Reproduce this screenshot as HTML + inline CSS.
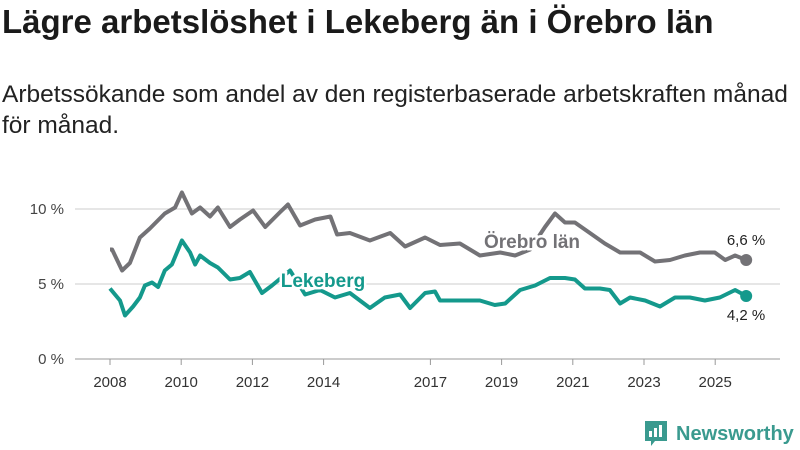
<!DOCTYPE html>
<html><head><meta charset="utf-8"><style>
body{margin:0;width:800px;height:450px;background:#fff;font-family:"Liberation Sans",sans-serif;overflow:hidden;position:relative}
h1{position:absolute;left:2px;top:3px;margin:0;font-size:33px;font-weight:bold;color:#1a1a1a;white-space:nowrap}
p{position:absolute;left:2px;top:79px;margin:0;font-size:24.5px;line-height:31px;color:#222;width:788px}
svg{position:absolute;left:0;top:0}
</style></head><body>
<h1>Lägre arbetslöshet i Lekeberg än i Örebro län</h1>
<p>Arbetssökande som andel av den registerbaserade arbetskraften månad för månad.</p>
<svg id="c" width="800" height="450"></svg>
<script>
const yearTicks=[2008,2010,2012,2014,2017,2019,2021,2023,2025];
const yTicks=[0,5,10];
const yTickLabels=["0 %","5 %","10 %"];
const orebroYears=[2008.0,2008.06,2008.34,2008.56,2008.84,2009.12,2009.54,2009.83,2010.02,2010.3,2010.53,2010.81,2011.03,2011.37,2011.65,2012.02,2012.36,2012.78,2013.0,2013.34,2013.76,2014.19,2014.38,2014.74,2015.3,2015.87,2016.29,2016.85,2017.27,2017.83,2018.39,2018.96,2019.38,2019.8,2020.22,2020.5,2020.78,2021.06,2021.48,2021.9,2022.33,2022.89,2023.31,2023.73,2024.15,2024.57,2024.99,2025.28,2025.56,2025.87];
const orebroValues=[7.3,7.3,5.9,6.4,8.1,8.7,9.7,10.1,11.1,9.7,10.1,9.5,10.1,8.8,9.3,9.9,8.8,9.8,10.3,8.9,9.3,9.5,8.3,8.4,7.9,8.4,7.5,8.1,7.6,7.7,6.9,7.1,6.9,7.3,8.8,9.7,9.1,9.1,8.4,7.7,7.1,7.1,6.5,6.6,6.9,7.1,7.1,6.6,6.9,6.6];
const lekebergYears=[2008.0,2008.28,2008.42,2008.65,2008.84,2008.98,2009.18,2009.35,2009.54,2009.74,2010.02,2010.25,2010.39,2010.53,2010.81,2011.03,2011.37,2011.65,2011.93,2012.27,2012.55,2013.06,2013.48,2013.9,2014.32,2014.74,2015.3,2015.72,2016.15,2016.43,2016.85,2017.13,2017.27,2017.83,2018.39,2018.81,2019.1,2019.52,2019.94,2020.36,2020.78,2021.06,2021.34,2021.76,2022.04,2022.33,2022.61,2023.03,2023.45,2023.87,2024.29,2024.71,2025.13,2025.56,2025.87];
const lekebergValues=[4.7,3.9,2.9,3.5,4.1,4.9,5.1,4.8,5.9,6.3,7.9,7.1,6.3,6.9,6.4,6.1,5.3,5.4,5.8,4.4,4.9,5.9,4.3,4.6,4.1,4.4,3.4,4.1,4.3,3.4,4.4,4.5,3.9,3.9,3.9,3.6,3.7,4.6,4.9,5.4,5.4,5.3,4.7,4.7,4.6,3.7,4.1,3.9,3.5,4.1,4.1,3.9,4.1,4.6,4.2];
const NS="http://www.w3.org/2000/svg";
const svg=document.getElementById('c');
const X=y=>110+(y-2008)*35.6;
const Y=v=>359-v*15;
function mk(t,a,p){const e=document.createElementNS(NS,t);for(const k in a)e.setAttribute(k,a[k]);(p||svg).appendChild(e);return e;}
yTicks.forEach((t,i)=>{
 const g=mk('line',{x1:75,x2:780,y1:Y(t),y2:Y(t),stroke:t===0?'#999':'#ddd','stroke-width':t===0?1:1.5});
 
 
 const l=mk('text',{x:64,y:Y(t)+5,'text-anchor':'end','font-size':15,fill:'#444'});
 l.textContent=yTickLabels[i];
 
 
});
yearTicks.forEach(t=>{
 const tk=mk('line',{x1:X(t),x2:X(t),y1:359,y2:365,stroke:'#999'});
 
 
 const l=mk('text',{x:X(t),y:387,'text-anchor':'middle','font-size':15,fill:'#333'});
 l.textContent=t;
 
 
});
function series(ys,vs,col,name){
 const d=ys.map((y,i)=>(i?'L':'M')+X(y).toFixed(1)+','+Y(vs[i]).toFixed(1)).join('');
 const p=mk('path',{d:d,fill:'none',stroke:col,'stroke-width':4,'stroke-linejoin':'round'});
 
 
 const n=ys.length-1;
 const c=mk('circle',{cx:X(ys[n]),cy:Y(vs[n]),r:6,fill:col});
 
 
}
series(orebroYears,orebroValues,'#737276','orebro');
series(lekebergYears,lekebergValues,'#14998c','lekeberg');
function lbl(x,y,txt,col,name,size,w,halo){
 const t=mk('text',{x:x,y:y,'font-size':size,'font-weight':w,fill:col,'text-anchor':'middle'});
 if(halo){t.setAttribute('stroke','#fff');t.setAttribute('stroke-width',5);t.setAttribute('paint-order','stroke');}
 t.textContent=txt;
 
 
}
lbl(532,248,'Örebro län','#737276','orebro-label',19,'bold',true);
lbl(323,287,'Lekeberg','#14998c','lekeberg-label',19,'bold',true);
const on=orebroValues.length-1, ln=lekebergValues.length-1;
lbl(746,245,orebroValues[on].toFixed(1).replace('.',',')+' %','#222','orebro-end-value',15,'normal',true);
lbl(746,320,lekebergValues[ln].toFixed(1).replace('.',',')+' %','#222','lekeberg-end-value',15,'normal',true);
const lg=mk('g',{});


mk('path',{d:'M645,421 h22 v20 h-12 l-4,5 v-5 h-6 z',fill:'#3a9a8f'},lg);
mk('rect',{x:649,y:431,width:3,height:6,fill:'#fff'},lg);
mk('rect',{x:654,y:428,width:3,height:9,fill:'#fff'},lg);
mk('rect',{x:659,y:425,width:3,height:12,fill:'#fff'},lg);
const lt=mk('text',{x:676,y:440,'font-size':20,'font-weight':'bold',fill:'#3a9a8f'},lg);
lt.textContent='Newsworthy';
</script>
</body></html>
